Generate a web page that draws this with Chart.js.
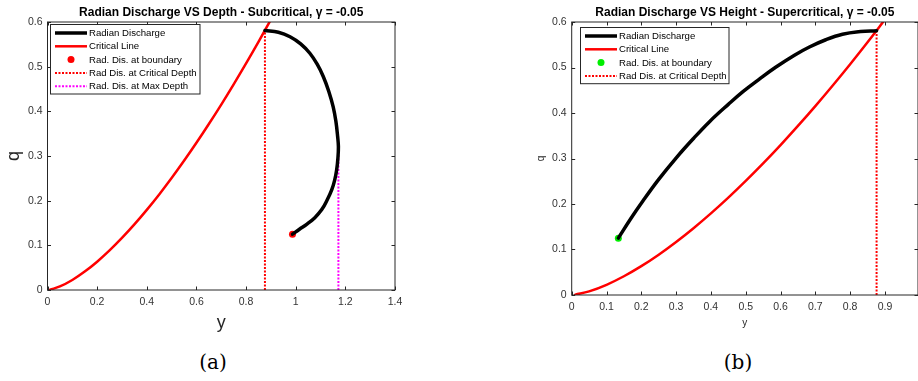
<!DOCTYPE html>
<html>
<head>
<meta charset="utf-8">
<script src="https://cdn.jsdelivr.net/npm/chart.js@4.4.1/dist/chart.umd.min.js"></script>
<style>
  body { margin: 0; background: #fff; overflow: hidden; width: 918px; height: 381px; position: relative; }
  .panel { position: absolute; top: 0; height: 340px; }
  .cap { position: absolute; top: 350px; font-family: "DejaVu Serif", "Liberation Serif", serif; font-size: 20px; color: #000; transform: translateX(-50%); }
</style>
</head>
<body>
<div class="panel" style="left:0;width:460px"><canvas id="subChart" width="460" height="340"></canvas></div>
<div class="panel" style="left:460px;width:462px"><canvas id="supChart" width="462" height="340"></canvas></div>
<div class="cap" style="left:213px">(a)</div>
<div class="cap" style="left:738px">(b)</div>
<script>
// critical line q(y), shared by both panels
const critDepth = [0.01, 0.05, 0.1, 0.15, 0.2, 0.25, 0.3, 0.35, 0.4, 0.45, 0.5, 0.55, 0.6, 0.65, 0.7, 0.75, 0.8, 0.85, 0.9];
const critQ = [0.0007, 0.0079, 0.0224, 0.0412, 0.0634, 0.0886, 0.1165, 0.1468, 0.1794, 0.2140, 0.2507, 0.2892, 0.3295, 0.3716, 0.4152, 0.4605, 0.5073, 0.5556, 0.6054];

// subcritical branch, traced from the critical depth round to the boundary
const subDepth = [0.876, 0.93, 0.977, 1.02, 1.057, 1.087, 1.111, 1.133, 1.151, 1.162, 1.169, 1.172, 1.170, 1.165, 1.157, 1.145, 1.127, 1.105, 1.077, 1.044, 1.015, 0.987];
const subQ = [0.581, 0.577, 0.567, 0.551, 0.530, 0.505, 0.478, 0.445, 0.410, 0.377, 0.343, 0.321, 0.295, 0.269, 0.246, 0.224, 0.202, 0.180, 0.162, 0.147, 0.136, 0.125];

// supercritical branch, from the boundary up to the critical depth
const supDepth = [0.134, 0.17, 0.205, 0.25, 0.301, 0.35, 0.396, 0.45, 0.492, 0.54, 0.587, 0.64, 0.683, 0.73, 0.778, 0.83, 0.876];
const supQ = [0.125, 0.168, 0.207, 0.254, 0.302, 0.344, 0.381, 0.419, 0.447, 0.475, 0.501, 0.527, 0.545, 0.561, 0.573, 0.579, 0.581];

const critDepthY = 0.876, critDepthQ = 0.58;
const maxDepthY = 1.172, maxDepthQ = 0.321;
const subBoundary = [0.987, 0.125];
const supBoundary = [0.134, 0.125];

const xTicksSub = [0, 0.2, 0.4, 0.6, 0.8, 1, 1.2, 1.4];
const xTicksSup = [0, 0.1, 0.2, 0.3, 0.4, 0.5, 0.6, 0.7, 0.8, 0.9];
const qTicks = [0, 0.1, 0.2, 0.3, 0.4, 0.5, 0.6];

const pts = (xs, ys) => xs.map((x, i) => ({ x: x, y: ys[i] }));
const fmt = v => String(Math.round(v * 10) / 10);
const FONT = 'Liberation Sans, Arial, sans-serif';
const AXIS = '#262626';

function line(label, data, color, width, dash) {
    return {
        label: label, data: data, showLine: true, borderColor: color, backgroundColor: color,
        borderWidth: width, borderDash: dash || [], pointRadius: 0, clip: 0,
        tension: dash ? 0 : 0.4, borderCapStyle: dash ? 'butt' : 'round', borderJoinStyle: 'round'
    };
}
function dot(label, p, color) {
    return {
        label: label, data: [{ x: p[0], y: p[1] }], showLine: false, pointRadius: 3.5,
        pointBorderWidth: 0, pointBackgroundColor: color, borderColor: color, backgroundColor: color
    };
}

// MATLAB style box with inward ticks on all sides, plus legend in the upper left
const boxAxes = {
    id: 'boxAxes',
    afterDatasetsDraw(chart, args, opts) {
        const { ctx, chartArea: a, scales: { x, y } } = chart;
        ctx.save();
        ctx.strokeStyle = AXIS;
        ctx.lineWidth = 1;
        ctx.strokeRect(a.left, a.top, a.right - a.left, a.bottom - a.top);
        ctx.beginPath();
        opts.xTicks.forEach(v => {
            const px = Math.round(x.getPixelForValue(v)) + 0.5;
            ctx.moveTo(px, a.bottom); ctx.lineTo(px, a.bottom - 3.5);
            ctx.moveTo(px, a.top); ctx.lineTo(px, a.top + 3.5);
        });
        qTicks.forEach(v => {
            const py = Math.round(y.getPixelForValue(v)) + 0.5;
            ctx.moveTo(a.left, py); ctx.lineTo(a.left + 3.5, py);
            ctx.moveTo(a.right, py); ctx.lineTo(a.right - 3.5, py);
        });
        ctx.stroke();

        const lg = opts.legend;
        const sets = chart.data.datasets;
        const rowH = 13.3;
        const h = sets.length * rowH + 3;
        ctx.fillStyle = '#fff';
        ctx.fillRect(lg.x, lg.y, lg.w, h);
        ctx.strokeStyle = AXIS;
        ctx.lineWidth = 1;
        ctx.strokeRect(lg.x, lg.y, lg.w, h);
        ctx.font = '9.6px ' + FONT;
        ctx.textBaseline = 'middle';
        sets.forEach((ds, i) => {
            const cy = lg.y + 8.5 + i * rowH;
            const x0 = lg.x + 4.5, x1 = lg.x + 36.5;
            if (ds.showLine) {
                ctx.strokeStyle = ds.borderColor;
                ctx.lineWidth = ds.borderWidth;
                ctx.lineCap = 'butt';
                ctx.setLineDash(ds.borderDash);
                ctx.beginPath(); ctx.moveTo(x0, cy); ctx.lineTo(x1, cy); ctx.stroke();
                ctx.setLineDash([]);
            } else {
                ctx.fillStyle = ds.pointBackgroundColor;
                ctx.beginPath(); ctx.arc((x0 + x1) / 2, cy, 3.5, 0, Math.PI * 2); ctx.fill();
            }
            ctx.fillStyle = '#000';
            ctx.fillText(ds.label, lg.x + 38.5, cy + 0.5);
        });
        ctx.restore();
    }
};

function makeChart(id, cfg) {
    return new Chart(document.getElementById(id), {
        type: 'scatter',
        data: { datasets: cfg.datasets },
        plugins: [boxAxes],
        options: {
            responsive: false,
            animation: false,
            devicePixelRatio: 1,
            layout: { padding: { left: 0, top: 0, right: cfg.padRight, bottom: 0 } },
            plugins: {
                legend: { display: false },
                tooltip: { enabled: false },
                title: {
                    display: true, text: cfg.title, fullSize: false, color: '#000',
                    font: { family: FONT, size: 12, weight: 'bold', lineHeight: 1.2 },
                    padding: { top: 5.5, bottom: 2.1 }
                },
                boxAxes: { xTicks: cfg.xTicks, legend: cfg.legend }
            },
            scales: {
                x: {
                    type: 'linear', min: 0, max: cfg.xMax,
                    grid: { display: false, drawTicks: false }, border: { display: false },
                    afterBuildTicks: s => { s.ticks = cfg.xTicks.map(v => ({ value: v })); },
                    afterFit: s => { s.height = 340 - cfg.bottom; },
                    ticks: { callback: fmt, padding: 6, color: '#333', font: { family: FONT, size: 10.5 }, maxRotation: 0 },
                    title: {
                        display: true, text: 'y', color: '#262626',
                        font: { family: FONT, size: cfg.labelSize, lineHeight: 1.2 },
                        padding: { top: 0, bottom: cfg.xTitlePad }
                    }
                },
                y: {
                    type: 'linear', min: 0, max: 0.6,
                    grid: { display: false, drawTicks: false }, border: { display: false },
                    afterBuildTicks: s => { s.ticks = qTicks.map(v => ({ value: v })); },
                    afterFit: s => { s.width = cfg.left; },
                    ticks: { callback: fmt, padding: 5, color: '#333', font: { family: FONT, size: 10.5 } },
                    title: {
                        display: true, text: 'q', color: '#262626',
                        font: { family: FONT, size: cfg.labelSize, lineHeight: 1.2 },
                        padding: { top: cfg.yTitlePad, bottom: 0 }
                    }
                }
            }
        }
    });
}

makeChart('subChart', {
    title: 'Radian Discharge VS Depth - Subcritical, \u03b3 = -0.05',
    xMax: 1.4, xTicks: xTicksSub, left: 47.5, padRight: 65, bottom: 290,
    labelSize: 18, xTitlePad: 6, yTitlePad: 3,
    legend: { x: 50.5, y: 24.5, w: 149.5 },
    datasets: [
        line('Radian Discharge', pts(subDepth, subQ), '#000', 3.5),
        line('Critical Line', pts(critDepth, critQ), '#ff0000', 2.5),
        dot('Rad. Dis. at boundary', subBoundary, '#ff0000'),
        line('Rad Dis. at Critical Depth', pts([critDepthY, critDepthY], [0, critDepthQ]), '#ff0000', 2, [2, 1.5]),
        line('Rad. Dis. at Max Depth', pts([maxDepthY, maxDepthY], [0, maxDepthQ]), '#ff00ff', 2, [2, 1.5])
    ]
});

makeChart('supChart', {
    title: 'Radian Discharge VS Height - Supercritical, \u03b3 = -0.05',
    xMax: 0.995, xTicks: xTicksSup, left: 111.7, padRight: 3, bottom: 295,
    labelSize: 10, xTitlePad: 11, yTitlePad: 75.7,
    legend: { x: 120.5, y: 27.5, w: 148.5 },
    datasets: [
        line('Radian Discharge', pts(supDepth, supQ), '#000', 3.5),
        line('Critical Line', pts(critDepth, critQ), '#ff0000', 2.5),
        dot('Rad. Dis. at boundary', supBoundary, '#00ee00'),
        line('Rad Dis. at Critical Depth', pts([critDepthY, critDepthY], [0, critDepthQ]), '#ff0000', 2, [2, 1.5])
    ]
});
</script>
</body>
</html>
